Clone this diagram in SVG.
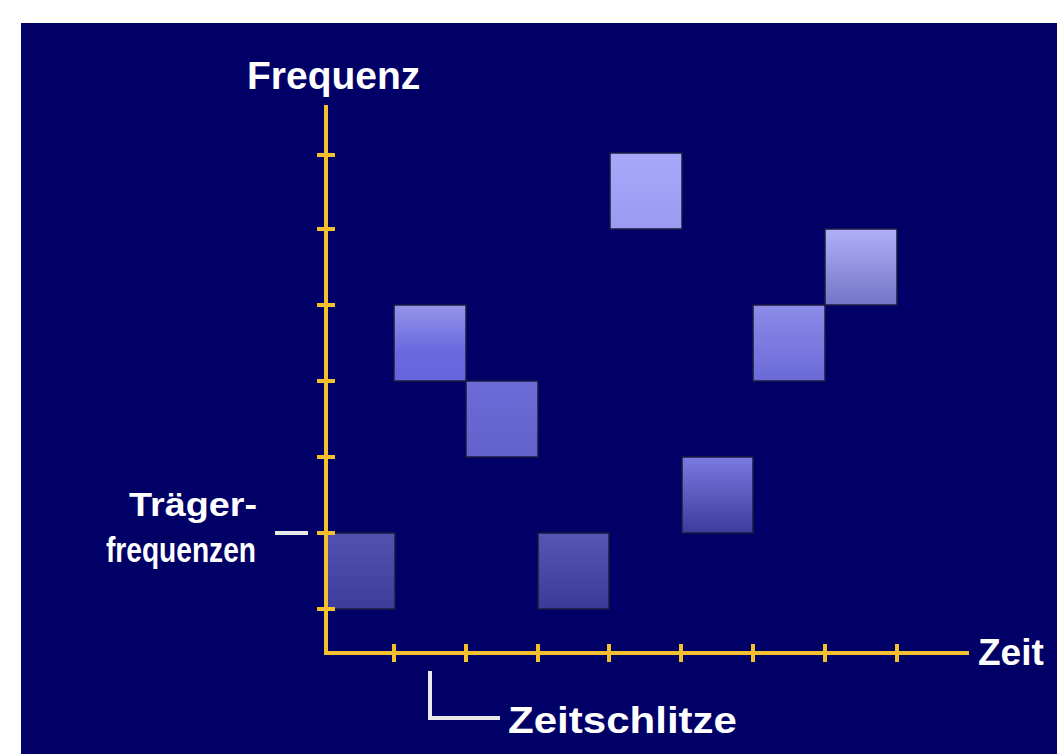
<svg xmlns="http://www.w3.org/2000/svg" width="1057" height="754" viewBox="0 0 1057 754">
<style>
.lbl{font-family:"Liberation Sans",Arial,sans-serif;font-weight:bold;fill:#ffffff}
.axis{stroke:#f5c030;stroke-width:4;fill:none;stroke-linecap:square}
.tick{stroke:#f5c030;stroke-width:4}
.sq{stroke:#1a1a40;stroke-width:1.5}
.wl{stroke:#e8e8e8;stroke-width:4;fill:none}
</style>
<defs>
<linearGradient id="g1" x1="0" y1="0" x2="0" y2="1"><stop offset="0" stop-color="#5252b0"/><stop offset="1" stop-color="#3c3c9a"/></linearGradient>
<linearGradient id="g2" x1="0" y1="0" x2="0" y2="1"><stop offset="0" stop-color="#9494e8"/><stop offset="0.6" stop-color="#6a6ae0"/><stop offset="1" stop-color="#6464dc"/></linearGradient>
<linearGradient id="g3" x1="0" y1="0" x2="0" y2="1"><stop offset="0" stop-color="#6c6cd8"/><stop offset="1" stop-color="#6262cc"/></linearGradient>
<linearGradient id="g4" x1="0" y1="0" x2="0" y2="1"><stop offset="0" stop-color="#5656b4"/><stop offset="1" stop-color="#3a3a98"/></linearGradient>
<linearGradient id="g5" x1="0" y1="0" x2="0" y2="1"><stop offset="0" stop-color="#a8a8fa"/><stop offset="1" stop-color="#9a9af2"/></linearGradient>
<linearGradient id="g6" x1="0" y1="0" x2="0" y2="1"><stop offset="0" stop-color="#7a7ae0"/><stop offset="1" stop-color="#3c3c9c"/></linearGradient>
<linearGradient id="g7" x1="0" y1="0" x2="0" y2="1"><stop offset="0" stop-color="#8c8ce8"/><stop offset="1" stop-color="#6a6ad8"/></linearGradient>
<linearGradient id="g8" x1="0" y1="0" x2="0" y2="1"><stop offset="0" stop-color="#b0b0f8"/><stop offset="1" stop-color="#7474c8"/></linearGradient>
</defs>
<rect x="21" y="23" width="1036" height="731" fill="#000066"/>
<g id="slots">
<rect id="s1" class="sq" x="326" y="533" width="69" height="76" fill="url(#g1)"/>
<rect id="s2" class="sq" x="394" y="305" width="72" height="76" fill="url(#g2)"/>
<rect id="s3" class="sq" x="466" y="381" width="72" height="76" fill="url(#g3)"/>
<rect id="s4" class="sq" x="538" y="533" width="71" height="76" fill="url(#g4)"/>
<rect id="s5" class="sq" x="610" y="153" width="72" height="76" fill="url(#g5)"/>
<rect id="s6" class="sq" x="682" y="457" width="71" height="76" fill="url(#g6)"/>
<rect id="s7" class="sq" x="753" y="305" width="72" height="76" fill="url(#g7)"/>
<rect id="s8" class="sq" x="825" y="229" width="72" height="76" fill="url(#g8)"/>
</g>
<g id="axes">
<path class="axis" d="M326 107 V653 H967"/>
<path class="tick" d="M317 155 H335 M317 229 H335 M317 305 H335 M317 381 H335 M317 457 H335 M317 533 H335 M317 609 H335"/>
<path class="tick" d="M394 644 V662 M466 644 V662 M538 644 V662 M609 644 V662 M681 644 V662 M753 644 V662 M825 644 V662 M897 644 V662"/>
</g>
<g id="connectors">
<path class="wl" d="M275 533 H308"/>
<path class="wl" d="M430 671 V718 H500"/>
</g>
<g id="labels">
<text class="lbl" x="247" y="89" font-size="39">Frequenz</text>
<text class="lbl" x="978" y="665" font-size="37">Zeit</text>
<text class="lbl" x="129" y="516" font-size="34" textLength="128" lengthAdjust="spacingAndGlyphs">Träger-</text>
<text class="lbl" x="106" y="562" font-size="35" textLength="150" lengthAdjust="spacingAndGlyphs">frequenzen</text>
<text class="lbl" x="508" y="733" font-size="36" textLength="229" lengthAdjust="spacingAndGlyphs">Zeitschlitze</text>
</g>
</svg>
